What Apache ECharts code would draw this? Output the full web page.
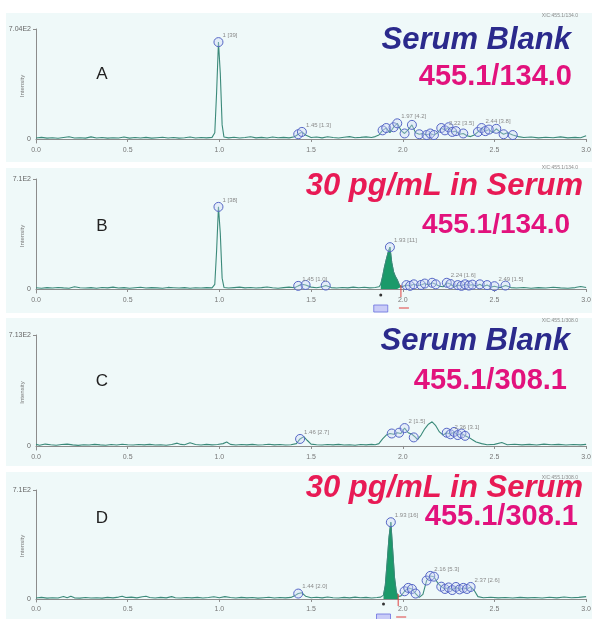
<!DOCTYPE html>
<html><head><meta charset="utf-8">
<script src="https://cdn.jsdelivr.net/npm/echarts@6/dist/echarts.min.js"></script>
<style>html,body{margin:0;padding:0;background:#fff}#c{width:594px;height:619px}</style>
</head><body><div id="c"></div>
<script>
// ---------- data ----------
const xTickStep = 0.5;
const xRange = [0, 3.0];
const yTopValues = [704, 710, 713, 710];
const yTopLabels = ['7.04E2', '7.1E2', '7.13E2', '7.1E2'];
const yMinValues = [-26, -26, -26, -20];
const panelLetters = ['A', 'B', 'C', 'D'];
const sampleTitles = ['Serum Blank', '30 pg/mL in Serum', 'Serum Blank', '30 pg/mL in Serum'];
const transitions = ['455.1/134.0', '455.1/134.0', '455.1/308.1', '455.1/308.1'];
const xicLabels = ['XIC:455.1/134.0', 'XIC:455.1/134.0', 'XIC:455.1/308.0', 'XIC:455.1/308.0'];

const traceA = [[0.00,6],[0.03,10],[0.06,5],[0.09,8],[0.12,4],[0.15,9],[0.18,14],[0.21,6],[0.24,8],[0.27,5],[0.30,13],[0.33,6],[0.36,9],[0.39,5],[0.42,8],[0.45,6],[0.48,12],[0.51,5],[0.54,9],[0.57,6],[0.60,10],[0.63,5],[0.66,8],[0.69,11],[0.72,6],[0.75,9],[0.78,5],[0.81,8],[0.84,12],[0.87,6],[0.90,9],[0.93,7],[0.96,10],[0.975,40],[0.985,300],[0.995,620],[1.005,420],[1.015,90],[1.025,12],[1.05,7],[1.08,11],[1.11,6],[1.14,9],[1.17,14],[1.20,7],[1.23,10],[1.26,6],[1.29,12],[1.32,8],[1.35,10],[1.38,7],[1.41,14],[1.43,30],[1.45,45],[1.47,25],[1.50,9],[1.53,12],[1.56,7],[1.59,14],[1.62,9],[1.65,6],[1.68,11],[1.71,15],[1.74,8],[1.77,10],[1.80,13],[1.83,9],[1.85,15],[1.87,25],[1.89,55],[1.91,70],[1.93,40],[1.95,75],[1.97,100],[1.99,55],[2.01,35],[2.03,60],[2.05,90],[2.07,40],[2.09,30],[2.11,35],[2.13,25],[2.15,35],[2.17,25],[2.19,40],[2.21,70],[2.23,55],[2.25,75],[2.27,45],[2.29,50],[2.31,30],[2.33,35],[2.35,20],[2.37,15],[2.39,25],[2.41,45],[2.43,70],[2.45,50],[2.47,60],[2.49,40],[2.51,65],[2.53,45],[2.55,30],[2.57,40],[2.60,25],[2.63,15],[2.66,9],[2.70,12],[2.74,7],[2.78,11],[2.82,8],[2.86,13],[2.90,7],[2.94,10],[2.97,8],[3.00,20]];

const traceB = [[0.00,8],[0.03,5],[0.06,9],[0.09,6],[0.12,10],[0.15,7],[0.18,5],[0.21,14],[0.24,8],[0.27,6],[0.30,9],[0.33,5],[0.36,10],[0.39,7],[0.42,12],[0.45,6],[0.48,9],[0.51,5],[0.54,8],[0.57,11],[0.60,6],[0.63,9],[0.66,7],[0.69,5],[0.72,10],[0.75,8],[0.78,6],[0.81,9],[0.84,5],[0.87,8],[0.90,6],[0.93,9],[0.96,7],[0.975,30],[0.985,250],[0.995,530],[1.005,360],[1.015,70],[1.025,10],[1.05,6],[1.08,9],[1.11,12],[1.14,7],[1.17,10],[1.20,6],[1.23,9],[1.26,13],[1.29,8],[1.32,5],[1.35,9],[1.38,12],[1.41,8],[1.43,20],[1.45,30],[1.47,26],[1.50,12],[1.53,8],[1.56,14],[1.58,22],[1.61,9],[1.64,6],[1.67,10],[1.70,7],[1.73,12],[1.76,8],[1.79,11],[1.82,7],[1.85,10],[1.87,14],[1.88,30],[1.89,80],[1.90,140],[1.91,190],[1.92,235],[1.93,270],[1.94,170],[1.95,110],[1.96,80],[1.97,60],[1.98,30],[1.99,12],[2.00,12],[2.02,25],[2.04,20],[2.06,30],[2.08,22],[2.10,26],[2.12,35],[2.14,25],[2.16,40],[2.18,30],[2.20,18],[2.22,14],[2.24,40],[2.26,32],[2.28,12],[2.30,25],[2.32,20],[2.34,30],[2.36,22],[2.38,28],[2.40,18],[2.42,30],[2.44,16],[2.46,25],[2.48,12],[2.50,18],[2.53,8],[2.56,22],[2.59,9],[2.62,6],[2.66,10],[2.70,5],[2.74,9],[2.78,6],[2.82,11],[2.86,7],[2.90,5],[2.94,9],[2.97,16],[3.00,10]];

const traceC = [[0.00,10],[0.02,4],[0.05,12],[0.08,8],[0.11,5],[0.14,9],[0.17,12],[0.20,7],[0.23,4],[0.26,8],[0.29,6],[0.32,10],[0.35,7],[0.38,5],[0.41,9],[0.44,6],[0.47,11],[0.50,8],[0.53,6],[0.56,9],[0.59,7],[0.62,10],[0.65,6],[0.68,8],[0.71,5],[0.74,9],[0.77,18],[0.79,10],[0.81,8],[0.84,20],[0.87,9],[0.90,6],[0.93,10],[0.96,7],[0.99,9],[1.02,15],[1.04,25],[1.06,10],[1.09,6],[1.12,9],[1.15,7],[1.18,10],[1.21,6],[1.24,8],[1.27,11],[1.30,7],[1.33,9],[1.36,6],[1.39,8],[1.42,15],[1.44,45],[1.46,60],[1.48,35],[1.50,12],[1.53,8],[1.56,6],[1.59,9],[1.62,7],[1.65,10],[1.68,6],[1.71,8],[1.74,5],[1.77,9],[1.80,7],[1.83,10],[1.85,8],[1.87,15],[1.89,45],[1.91,70],[1.93,80],[1.95,75],[1.97,85],[1.99,80],[2.01,115],[2.03,85],[2.05,75],[2.07,55],[2.08,40],[2.10,70],[2.12,110],[2.14,140],[2.16,155],[2.18,130],[2.20,90],[2.22,70],[2.24,85],[2.26,75],[2.28,90],[2.30,70],[2.32,80],[2.34,65],[2.36,55],[2.38,40],[2.40,25],[2.43,15],[2.46,8],[2.50,10],[2.54,22],[2.57,8],[2.61,11],[2.65,7],[2.69,10],[2.73,6],[2.77,12],[2.81,8],[2.85,10],[2.89,6],[2.93,9],[2.97,7],[3.00,10]];

const traceD = [[0.00,6],[0.03,10],[0.06,5],[0.09,8],[0.12,6],[0.15,16],[0.17,8],[0.19,18],[0.21,7],[0.24,5],[0.27,9],[0.30,6],[0.33,8],[0.36,5],[0.39,10],[0.42,7],[0.45,12],[0.47,18],[0.49,9],[0.52,12],[0.55,7],[0.58,14],[0.60,18],[0.62,9],[0.65,6],[0.68,10],[0.71,7],[0.74,15],[0.76,8],[0.79,6],[0.82,9],[0.85,7],[0.88,10],[0.91,6],[0.94,9],[0.97,14],[1.00,8],[1.03,15],[1.06,9],[1.09,6],[1.12,10],[1.15,7],[1.18,9],[1.21,5],[1.24,8],[1.27,11],[1.30,6],[1.33,9],[1.36,7],[1.39,10],[1.41,20],[1.43,35],[1.45,40],[1.47,18],[1.50,8],[1.53,11],[1.56,7],[1.59,13],[1.62,8],[1.65,6],[1.68,10],[1.71,7],[1.74,12],[1.77,8],[1.80,10],[1.83,6],[1.86,9],[1.88,12],[1.895,25],[1.905,90],[1.915,240],[1.925,400],[1.935,500],[1.945,320],[1.955,140],[1.965,45],[1.975,15],[1.99,20],[2.01,50],[2.03,72],[2.05,65],[2.07,35],[2.09,10],[2.11,30],[2.13,120],[2.15,150],[2.17,145],[2.19,105],[2.21,80],[2.23,65],[2.25,75],[2.27,58],[2.29,78],[2.31,62],[2.33,72],[2.35,65],[2.37,78],[2.39,55],[2.41,15],[2.44,8],[2.48,11],[2.52,7],[2.56,9],[2.60,6],[2.64,10],[2.68,7],[2.72,9],[2.76,6],[2.80,11],[2.84,7],[2.88,13],[2.92,8],[2.96,10],[3.00,15]];

// detected peak circles (retention times)
const circlesA = [0.995,1.43,1.45,1.89,1.91,1.95,1.97,2.01,2.05,2.09,2.13,2.15,2.17,2.21,2.23,2.25,2.27,2.29,2.33,2.41,2.43,2.45,2.47,2.51,2.55,2.60];
const circlesB = [0.995,1.43,1.47,1.58,1.93,2.02,2.04,2.06,2.10,2.12,2.16,2.18,2.24,2.26,2.30,2.32,2.34,2.36,2.38,2.42,2.46,2.50,2.56];
const circlesC = [1.44,1.94,1.98,2.01,2.06,2.24,2.26,2.28,2.30,2.32,2.34];
const circlesD = [1.43,1.935,2.01,2.03,2.05,2.07,2.13,2.15,2.17,2.21,2.23,2.25,2.27,2.29,2.31,2.33,2.35,2.37];
// peak labels: [retention time, text]
const labelsA = [[0.995,'1 [39]'],[1.45,'1.45 [1.3]'],[1.97,'1.97 [4.2]'],[2.23,'2.22 [3.5]'],[2.43,'2.44 [3.8]']];
const labelsB = [[0.995,'1 [38]'],[1.43,'1.45 [1.0]'],[1.93,'1.93 [11]'],[2.24,'2.24 [1.6]'],[2.50,'2.49 [1.5]']];
const labelsC = [[1.44,'1.46 [2.7]'],[2.01,'2 [1.5]'],[2.26,'2.36 [3.1]']];
const labelsD = [[1.43,'1.44 [2.0]'],[1.935,'1.93 [16]'],[2.15,'2.16 [5.3]'],[2.37,'2.37 [2.6]']];
// integrated peak ranges (start, end); null = none
const integrations = [null, [1.88, 1.99], null, [1.895, 1.975]];

const traces = [traceA, traceB, traceC, traceD];
const circles = [circlesA, circlesB, circlesC, circlesD];
const peakLabels = [labelsA, labelsB, labelsC, labelsD];

// ---------- layout / style ----------
const layout = [
  {bgTop: 13, bgBottom: 162, gridTop: 29, axisY: 143, title: [571, 40], trans: [572, 77, 29], xic: 16, letterY: 74},
  {bgTop: 168, bgBottom: 313, gridTop: 179, axisY: 293, title: [583, 186], trans: [570, 225, 28], xic: 168, letterY: 226},
  {bgTop: 318, bgBottom: 466, gridTop: 335, axisY: 450, title: [570, 341], trans: [567, 381, 29], xic: 321, letterY: 381},
  {bgTop: 472, bgBottom: 619, gridTop: 490, axisY: 602, title: [583, 488], trans: [578, 517, 29], xic: 478, letterY: 518}
];
const titleColors = ['#2b2a8c', '#e81a55', '#2b2a8c', '#e81a55'];
const transColor = '#e2127d';
const lineColor = '#3b8a7a';
const axisColor = '#8c8c8c';

function nearestValue(trace, t) {
  let best = trace[0];
  for (const p of trace) if (Math.abs(p[0] - t) < Math.abs(best[0] - t)) best = p;
  return best[1];
}

const grids = [], xAxes = [], yAxes = [], series = [];
layout.forEach((L, i) => {
  grids.push({left: 36, right: 5, top: L.gridTop, height: L.axisY - L.gridTop});
  xAxes.push({
    gridIndex: i, type: 'value', min: xRange[0], max: xRange[1], interval: xTickStep,
    axisLine: {lineStyle: {color: axisColor, width: 1}},
    axisTick: {show: true, length: 3, lineStyle: {color: axisColor}},
    axisLabel: {fontSize: 7, color: '#777', margin: 4, fontFamily: 'Liberation Sans',
      formatter: v => v.toFixed(1)},
    splitLine: {show: false}
  });
  yAxes.push({
    gridIndex: i, type: 'value', min: yMinValues[i], max: yTopValues[i],
    axisLine: {show: true, lineStyle: {color: axisColor, width: 1}},
    axisTick: {show: true, length: 3, customValues: [yTopValues[i]], lineStyle: {color: axisColor}},
    axisLabel: {fontSize: 7, color: '#666', margin: 5, fontFamily: 'Liberation Sans',
      customValues: [0, yTopValues[i]],
      formatter: v => (v === 0 ? '0' : yTopLabels[i])},
    splitLine: {show: false}
  });
  const lbl = {};
  peakLabels[i].forEach(([t, s]) => { lbl[t] = s; });
  series.push({
    type: 'line', xAxisIndex: i, yAxisIndex: i, data: traces[i], showSymbol: false,
    lineStyle: {color: lineColor, width: 1.1}, z: 3, silent: true,
    markPoint: {
      symbol: 'circle', symbolSize: 9, silent: true,
      itemStyle: {color: 'rgba(205,215,245,0.35)', borderColor: '#5667c6', borderWidth: 1},
      label: {show: false},
      data: circles[i].map(t => {
        const d = {coord: [t, nearestValue(traces[i], t)]};
        if (lbl[t]) d.label = {show: true, formatter: lbl[t], position: [9, -5], fontSize: 6,
          color: '#8a8a8a', fontFamily: 'Liberation Sans'};
        return d;
      })
    }
  });
  if (integrations[i]) {
    const [s, e] = integrations[i];
    series.push({
      type: 'line', xAxisIndex: i, yAxisIndex: i, showSymbol: false, silent: true, z: 2,
      data: traces[i].filter(p => p[0] >= s && p[0] <= e),
      lineStyle: {color: '#178a5e', width: 0.8},
      areaStyle: {color: '#1b9a6a', opacity: 1}
    });
  }
});

const chart = echarts.init(document.getElementById('c'));
chart.setOption({
  animation: false, backgroundColor: '#ffffff',
  grid: grids, xAxis: xAxes, yAxis: yAxes, series: series
});

const graphics = [];
layout.forEach((L, i) => {
  graphics.push({type: 'rect', z: -10, silent: true,
    shape: {x: 6, y: L.bgTop, width: 586, height: L.bgBottom - L.bgTop},
    style: {fill: '#eff9f9'}});
  graphics.push({type: 'text', z: 10, x: L.title[0], y: L.title[1], silent: true,
    style: {text: sampleTitles[i], fill: titleColors[i], align: 'right', verticalAlign: 'middle',
      font: 'italic bold 31px "Liberation Sans"'}});
  graphics.push({type: 'text', z: 10, x: L.trans[0], y: L.trans[1], silent: true,
    style: {text: transitions[i], fill: transColor, align: 'right', verticalAlign: 'middle',
      font: 'bold ' + L.trans[2] + 'px "Liberation Sans"'}});
  graphics.push({type: 'text', z: 10, x: 102, y: L.letterY, silent: true,
    style: {text: panelLetters[i], fill: '#222', align: 'center', verticalAlign: 'middle',
      font: '17px "Liberation Sans"'}});
  graphics.push({type: 'text', z: 10, x: 578, y: L.xic, silent: true,
    style: {text: xicLabels[i], fill: '#8a8a8a', align: 'right', verticalAlign: 'middle',
      font: '5px "Liberation Sans"'}});
  graphics.push({type: 'text', z: 10, x: 22, y: (L.gridTop + L.axisY) / 2, rotation: Math.PI / 2, silent: true,
    style: {text: 'Intensity', fill: '#777', align: 'center', verticalAlign: 'middle',
      font: '6px "Liberation Sans"'}});
  if (integrations[i]) {
    const xs = chart.convertToPixel({xAxisIndex: i}, integrations[i][0]);
    const xe = chart.convertToPixel({xAxisIndex: i}, integrations[i][1]);
    graphics.push({type: 'rect', z: 10, silent: true,
      shape: {x: xs - 7, y: L.axisY + 12, width: 14, height: 7},
      style: {fill: '#c9ccf7', stroke: '#6b6fe0', lineWidth: 0.8}});
    graphics.push({type: 'circle', z: 10, silent: true,
      shape: {cx: xs, cy: L.axisY + 2, r: 1.5}, style: {fill: '#333'}});
    graphics.push({type: 'line', z: 10, silent: true,
      shape: {x1: xe, y1: L.axisY - 8, x2: xe, y2: L.axisY + 4}, style: {stroke: '#e04040', lineWidth: 1}});
    graphics.push({type: 'line', z: 10, silent: true,
      shape: {x1: xe - 2, y1: L.axisY + 15, x2: xe + 8, y2: L.axisY + 15}, style: {stroke: '#e04040', lineWidth: 1}});
  }
});
chart.setOption({graphic: graphics});
</script>
</body></html>
